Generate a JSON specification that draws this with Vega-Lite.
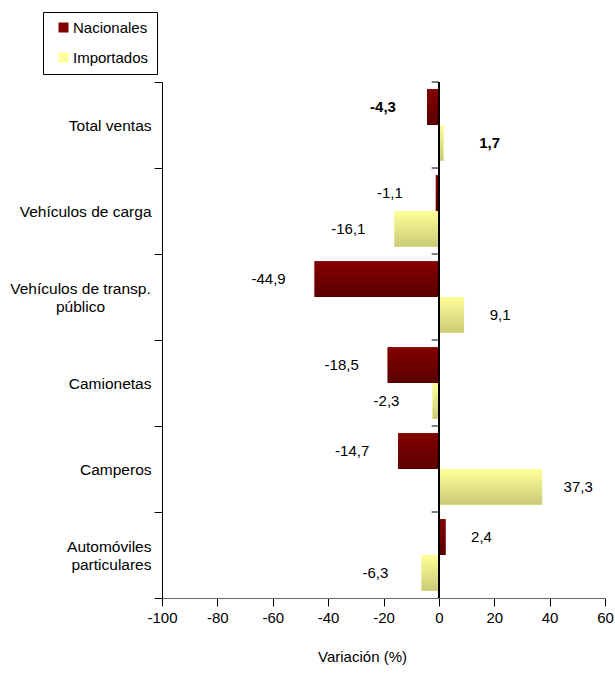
{
  "$schema": "https://vega.github.io/schema/vega-lite/v6.json",
  "width": 443,
  "height": 516,
  "autosize": {"type": "none"},
  "padding": {"left": 162, "top": 82, "right": 10, "bottom": 94},
  "background": "white",
  "data": {
    "values": [
      {"cat": "Total ventas", "serie": "Nacionales", "v": -4.3},
      {"cat": "Total ventas", "serie": "Importados", "v": 1.7},
      {"cat": "Vehículos de carga", "serie": "Nacionales", "v": -1.1},
      {"cat": "Vehículos de carga", "serie": "Importados", "v": -16.1},
      {"cat": "Vehículos de transp. público", "serie": "Nacionales", "v": -44.9},
      {"cat": "Vehículos de transp. público", "serie": "Importados", "v": 9.1},
      {"cat": "Camionetas", "serie": "Nacionales", "v": -18.5},
      {"cat": "Camionetas", "serie": "Importados", "v": -2.3},
      {"cat": "Camperos", "serie": "Nacionales", "v": -14.7},
      {"cat": "Camperos", "serie": "Importados", "v": 37.3},
      {"cat": "Automóviles particulares", "serie": "Nacionales", "v": 2.4},
      {"cat": "Automóviles particulares", "serie": "Importados", "v": -6.3}
    ]
  },
  "encoding": {
    "y": {
      "field": "cat", "type": "nominal",
      "sort": ["Total ventas", "Vehículos de carga", "Vehículos de transp. público", "Camionetas", "Camperos", "Automóviles particulares"],
      "scale": {"paddingInner": 0, "paddingOuter": 0},
      "axis": {
        "title": null,
        "domainColor": "#000", "tickColor": "#000", "tickBand": "extent", "tickSize": 8,
        "labelFontSize": 15.5, "labelColor": "#000", "labelLimit": 300,
        "labelExpr": "datum.value == 'Vehículos de transp. público' ? ['Vehículos de transp.', 'público'] : datum.value == 'Automóviles particulares' ? ['Automóviles', 'particulares'] : datum.value",
        "labelLineHeight": 18,
        "labelOffset": {"condition": {"test": "datum.value == 'Vehículos de transp. público' || datum.value == 'Automóviles particulares'", "value": -9}, "value": 0},
        "labelAlign": {"condition": {"test": "datum.value == 'Vehículos de transp. público'", "value": "center"}, "value": "right"},
        "labelPadding": {"condition": {"test": "datum.value == 'Vehículos de transp. público'", "value": 74}, "value": 3}
      }
    },
    "yOffset": {
      "field": "serie", "type": "nominal", "sort": ["Nacionales", "Importados"],
      "scale": {"paddingOuter": 0.2, "paddingInner": 0}
    },
    "x": {
      "field": "v", "type": "quantitative",
      "scale": {"domain": [-100, 60], "nice": false, "zero": false},
      "axis": {
        "title": "Variación (%)", "titleFontSize": 15, "titleFontWeight": "normal", "titleColor": "#000",
        "titleX": 200, "titleY": 58, "titleBaseline": "middle",
        "values": [-100, -80, -60, -40, -20, 0, 20, 40, 60],
        "format": "d", "grid": false, "labelFlush": false,
        "domainColor": "#666", "tickColor": "#000", "tickSize": 8,
        "labelFontSize": 15, "labelColor": "#000", "labelPadding": 4
      }
    }
  },
  "layer": [
    {
      "mark": {"type": "bar"},
      "encoding": {
        "color": {
          "field": "serie", "type": "nominal",
          "scale": {"domain": ["Nacionales", "Importados"], "range": ["#800000", "#FFFF99"]},
          "legend": {
            "title": null, "orient": "none", "legendX": -119, "legendY": -70,
            "symbolType": "square", "symbolSize": 100, "symbolStrokeWidth": 0,
            "labelFontSize": 15, "labelColor": "#000", "labelOffset": 2, "symbolOffset": 5,
            "rowPadding": 14, "padding": 8, "strokeColor": "#000", "fillColor": "white"
          }
        }
      }
    },
    {
      "transform": [{"filter": "datum.serie == 'Nacionales'"}],
      "mark": {
        "type": "bar",
        "fill": {"gradient": "linear", "x1": 0, "y1": 0, "x2": 0, "y2": 1,
          "stops": [{"offset": 0, "color": "#850000"}, {"offset": 1, "color": "#5a0000"}]}
      }
    },
    {
      "transform": [{"filter": "datum.serie == 'Importados'"}],
      "mark": {
        "type": "bar",
        "fill": {"gradient": "linear", "x1": 0, "y1": 0, "x2": 0, "y2": 1,
          "stops": [{"offset": 0, "color": "#FFFF99"}, {"offset": 1, "color": "#CACA78"}]}
      }
    },
    {
      "mark": {"type": "rule", "color": "#000", "strokeWidth": 1.5},
      "encoding": {"x": {"datum": 0}, "y": null, "yOffset": null}
    },
    {
      "transform": [{"filter": "datum.serie == 'Nacionales'"}],
      "mark": {"type": "rule", "color": "#000", "strokeWidth": 1},
      "encoding": {
        "x": {"datum": -2.6},
        "x2": {"datum": 0},
        "y": {"field": "cat", "type": "nominal", "bandPosition": 0,
          "sort": ["Total ventas", "Vehículos de carga", "Vehículos de transp. público", "Camionetas", "Camperos", "Automóviles particulares"]},
        "yOffset": null
      }
    },
    {
      "transform": [{"filter": "datum.v < 0 && datum.cat != 'Total ventas'"}],
      "mark": {"type": "text", "fontSize": 15, "color": "#000", "dx": -46, "align": "center", "baseline": "middle"},
      "encoding": {"text": {"field": "v", "type": "quantitative", "format": ".1f"}}
    },
    {
      "transform": [{"filter": "datum.v >= 0 && datum.cat != 'Total ventas'"}],
      "mark": {"type": "text", "fontSize": 15, "color": "#000", "dx": 36, "align": "center", "baseline": "middle"},
      "encoding": {"text": {"field": "v", "type": "quantitative", "format": ".1f"}}
    },
    {
      "transform": [{"filter": "datum.v < 0 && datum.cat == 'Total ventas'"}],
      "mark": {"type": "text", "fontSize": 15, "fontWeight": "bold", "color": "#000", "dx": -44, "align": "center", "baseline": "middle"},
      "encoding": {"text": {"field": "v", "type": "quantitative", "format": ".1f"}}
    },
    {
      "transform": [{"filter": "datum.v >= 0 && datum.cat == 'Total ventas'"}],
      "mark": {"type": "text", "fontSize": 15, "fontWeight": "bold", "color": "#000", "dx": 46, "align": "center", "baseline": "middle"},
      "encoding": {"text": {"field": "v", "type": "quantitative", "format": ".1f"}}
    }
  ],
  "config": {
    "font": "Liberation Sans",
    "view": {"stroke": null},
    "locale": {"number": {"decimal": ",", "thousands": ".", "grouping": [3], "currency": ["", ""], "minus": "-"}}
  }
}
